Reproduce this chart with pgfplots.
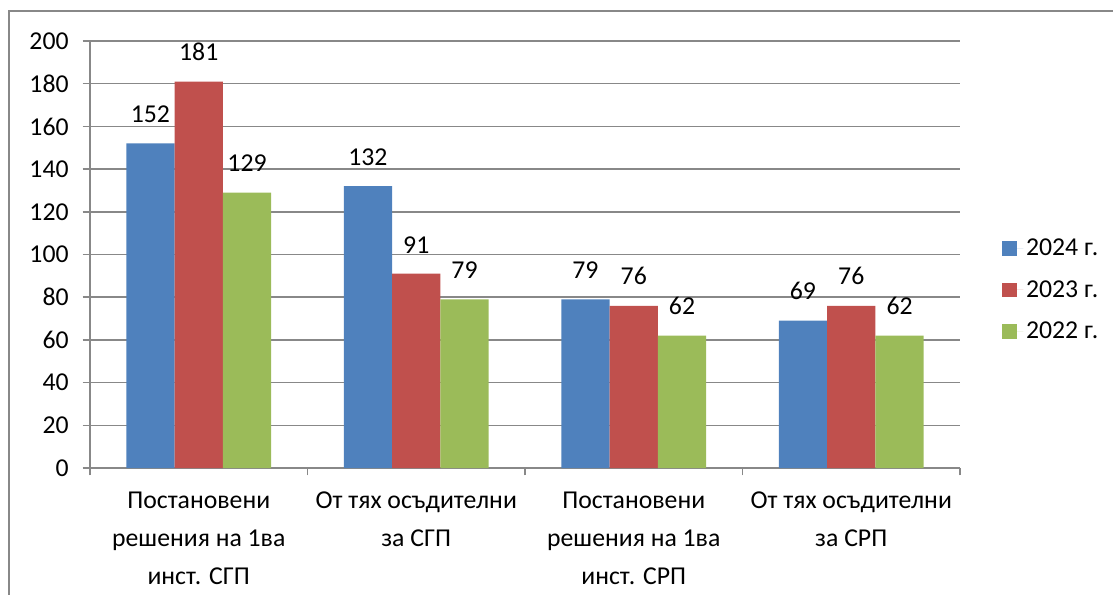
\documentclass[border=0pt]{standalone}
\usepackage{pgfplots}
\pgfplotsset{compat=1.18}
\usepackage{fontspec}
\setmainfont{Carlito}

\definecolor{s24}{HTML}{4F81BD}
\definecolor{s23}{HTML}{C0504D}
\definecolor{s22}{HTML}{9BBB59}
\definecolor{gridc}{HTML}{888888}

% 1 px of the reference = 0.75pt
\begin{document}
\begin{tikzpicture}
\useasboundingbox (0pt,0pt) rectangle (834.75pt,-445.5pt);
\draw[gridc, line width=1.5pt] (6.75pt,-450pt) -- (6.75pt,-8.25pt) -- (840pt,-8.25pt);

\begin{axis}[
    at={(67.5pt,-351pt)}, anchor=south west,
    scale only axis,
    width=652.5pt, height=320.25pt,
    ybar, bar width=0.222,
    xmin=-0.5, xmax=3.5,
    ymin=0, ymax=200,
    ytick={0,20,...,200},
    xtick={0,1,2,3},
    xticklabels={{Постановени\\решения на 1ва\\инст. СГП},
                 {От тях осъдителни\\за СГП},
                 {Постановени\\решения на 1ва\\инст. СРП},
                 {От тях осъдителни\\за СРП}},
    axis x line*=bottom, axis y line*=left,
    axis line style={gridc, line width=1.1pt, -},
    ymajorgrids, major grid style={gridc, line width=1.1pt},
    tick align=outside,
    major tick length=5.5pt,
    xtick style={draw=none},
    ytick style={gridc, line width=1.1pt},
    extra x ticks={-0.5,0.5,1.5,2.5,3.5},
    extra x tick labels={},
    extra x tick style={xtick style={draw=gridc, gridc, line width=1.1pt}},
    /pgf/number format/assume math mode=true,
    tick label style={font=\fontsize{19.3}{28.5}\selectfont},
    yticklabel style={xshift=-7pt},
    xticklabel style={align=center, yshift=-9pt},
    nodes near coords,
    every node near coord/.append style={font=\fontsize{19.3}{22}\selectfont, yshift=12pt},
    legend style={draw=none, at={(1.048,0.417)}, anchor=west,
        font=\fontsize{19.3}{22}\selectfont, inner sep=0pt,
        row sep=13pt, cells={anchor=west}},
    legend image code/.code={\fill[#1] (0pt,-5.5pt) rectangle (11pt,5.5pt);
        \path (11pt,0pt) -- (16pt,0pt);},
]
\addplot[fill=s24, draw=none, bar shift=-0.222] coordinates {(0,152) (1,132) (2,79) (3,69)};
\addplot[fill=s23, draw=none, bar shift=0] coordinates {(0,181) (1,91) (2,76) (3,76)};
\addplot[fill=s22, draw=none, bar shift=0.222] coordinates {(0,129) (1,79) (2,62) (3,62)};
\legend{2024 г.,2023 г.,2022 г.}
\end{axis}
\end{tikzpicture}
\end{document}
